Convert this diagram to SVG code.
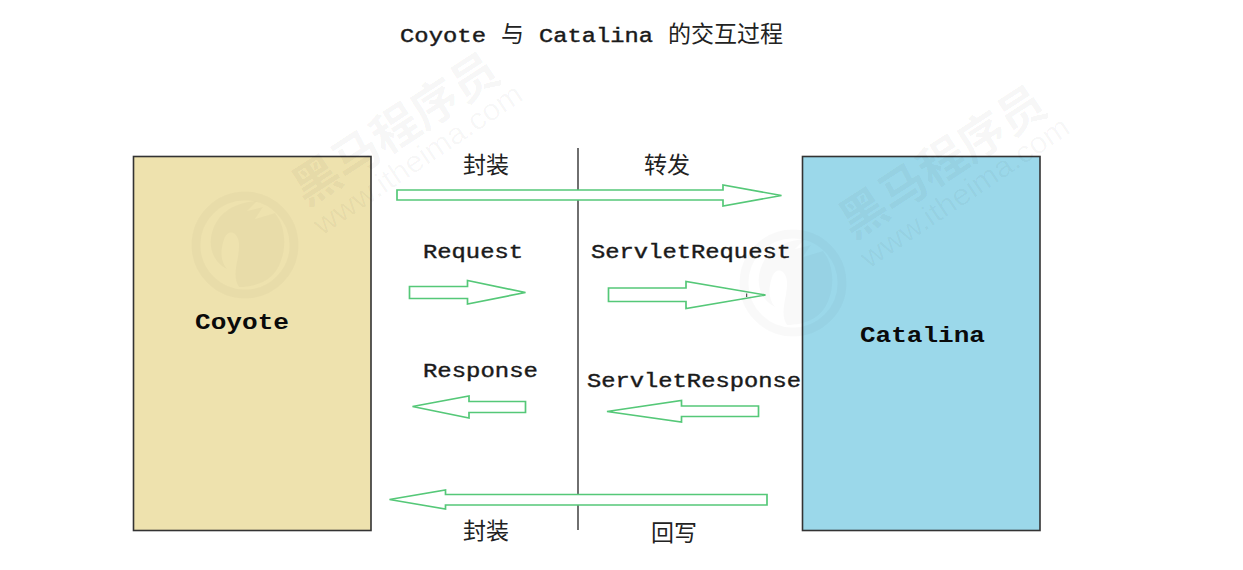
<svg xmlns="http://www.w3.org/2000/svg" width="1243" height="570" viewBox="0 0 1243 570">
  <style>
    .box { stroke: #333333; stroke-width: 1.6; }
    .flow { fill: #ffffff; stroke: #55c878; stroke-width: 1.7; stroke-linejoin: miter; }
    .latin { font-family: "Liberation Mono", "Courier New", monospace; font-size: 19.5px; fill: #1a1a1a; stroke: #1a1a1a; stroke-width: 0.4; }
    .name { font-family: "Liberation Mono", "Courier New", monospace; font-size: 22px; font-weight: bold; fill: #0a0a0a; }
    .cjk { font-family: "Noto Sans CJK SC", "Noto Sans", sans-serif; font-size: 23px; fill: #222222; }
    .mark { font-family: "Noto Sans CJK SC", sans-serif; font-size: 47px; font-weight: bold; fill: #000000; fill-opacity: 0.045; }
    .site { font-family: "Liberation Sans", Arial, sans-serif; font-size: 30px; fill: #000000; fill-opacity: 0.035; }
    .ring { fill: none; stroke: #000000; stroke-opacity: 0.022; stroke-width: 9; }
    .flame { fill: #000000; fill-opacity: 0.022; }
  </style>
  <defs>
    <!-- round brand emblem: outer band with a horse-head flame inside -->
    <g id="emblem">
      <circle class="ring" cx="0" cy="0" r="49"/>
      <path class="flame" d="M-34,-8 C-30,-30 -14,-42 12,-44 L2,-34 L18,-38 L10,-26 L30,-32 C40,-20 42,0 36,16 C30,34 14,42 -6,42 C-14,30 -6,16 -6,0 C-6,-10 -14,-18 -20,-8 C-24,2 -26,14 -18,24 C-30,18 -36,6 -34,-8 Z"/>
    </g>
  </defs>
  <rect width="1243" height="570" fill="#ffffff"/>

  <text class="latin" x="400" y="41.5" textLength="86" lengthAdjust="spacingAndGlyphs">Coyote</text>
  <text class="cjk" x="501" y="41.5">与</text>
  <text class="latin" x="539" y="41.5" textLength="114" lengthAdjust="spacingAndGlyphs">Catalina</text>
  <text class="cjk" x="668" y="41.5">的交互过程</text>

  <g id="coyote">
    <rect class="box" x="133.5" y="156.5" width="237.5" height="374" fill="#EEE2AE"/>
    <text class="name" x="195" y="328.5" textLength="94" lengthAdjust="spacingAndGlyphs">Coyote</text>
  </g>
  <g id="catalina">
    <rect class="box" x="802.5" y="156.5" width="237.5" height="374" fill="#9BD8EA"/>
    <text class="name" x="860" y="342" textLength="125" lengthAdjust="spacingAndGlyphs">Catalina</text>
  </g>

  <g id="connectors">
    <line x1="578" y1="148" x2="578" y2="530" stroke="#333333" stroke-width="1.4"/>
    <polygon class="flow" points="397,190 723,190 723,185 781.5,195.5 723,206 723,200 397,200"/>
    <polygon class="flow" points="409.5,286.5 467.5,286.5 467.5,280.5 525.5,292.5 467.5,304 467.5,298.5 409.5,298.5"/>
    <polygon class="flow" points="608.5,288 686,288 686,281.5 765.5,295 686,308.5 686,301.5 608.5,301.5"/>
    <line x1="746.7" y1="293.5" x2="746.7" y2="297" stroke="#333333" stroke-width="1"/>
    <polygon class="flow" points="525.5,401.5 469,401.5 469,396 412.5,406.5 469,418 469,412.5 525.5,412.5"/>
    <polygon class="flow" points="758.5,406 681.5,406 681.5,400.5 607,411.5 681.5,422 681.5,416.5 758.5,416.5"/>
    <polygon class="flow" points="767,494.5 445.5,494.5 445.5,490 389.5,499.5 445.5,509 445.5,505 767,505"/>
  </g>

  <text class="cjk" x="463" y="173">封装</text>
  <text class="cjk" x="644" y="173">转发</text>
  <text class="latin" x="423" y="258" textLength="100" lengthAdjust="spacingAndGlyphs">Request</text>
  <text class="latin" x="591" y="258" textLength="200" lengthAdjust="spacingAndGlyphs">ServletRequest</text>
  <text class="latin" x="423" y="376.5" textLength="115" lengthAdjust="spacingAndGlyphs">Response</text>
  <text class="latin" x="587" y="386.5" textLength="214" lengthAdjust="spacingAndGlyphs">ServletResponse</text>
  <text class="cjk" x="463" y="539">封装</text>
  <text class="cjk" x="651" y="541">回写</text>

  <!-- faint brand stamp repeated across the sheet -->
  <g id="stamp-left">
    <use href="#emblem" x="245" y="245"/>
    <text class="mark" transform="translate(306 207) rotate(-33)">黑马程序员</text>
    <text class="site" transform="translate(322 236) rotate(-34)" textLength="245" lengthAdjust="spacingAndGlyphs">www.itheima.com</text>
  </g>
  <g id="stamp-right">
    <use href="#emblem" x="793" y="283"/>
    <text class="mark" transform="translate(853 240) rotate(-33)">黑马程序员</text>
    <text class="site" transform="translate(869 269) rotate(-34)" textLength="245" lengthAdjust="spacingAndGlyphs">www.itheima.com</text>
  </g>
</svg>
